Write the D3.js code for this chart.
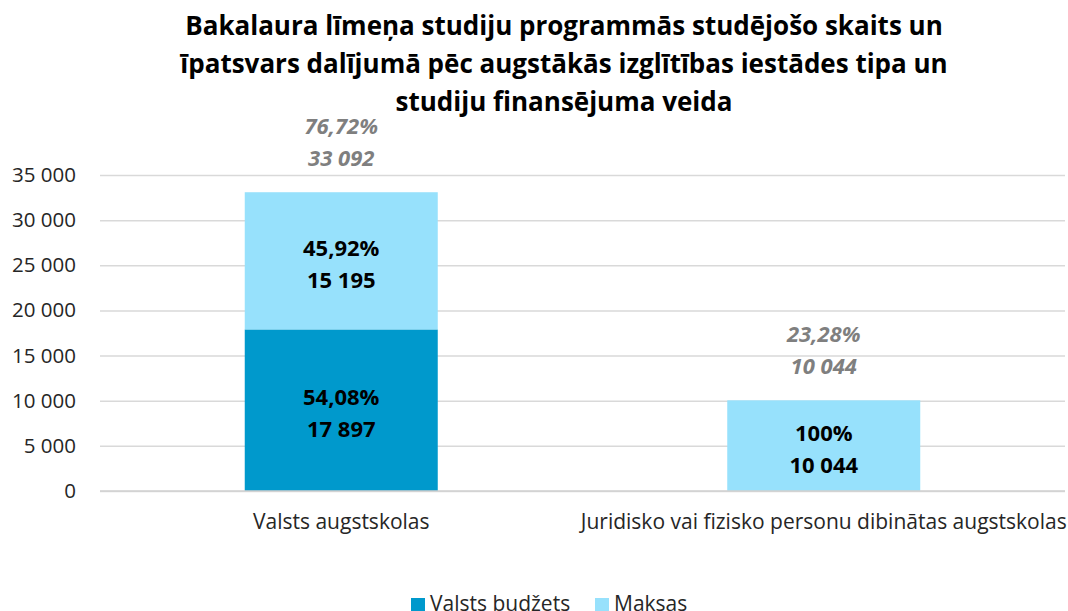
<!DOCTYPE html>
<html>
<head>
<meta charset="utf-8">
<script src="https://cdn.jsdelivr.net/npm/d3@7"></script>
<style>
  html, body { margin: 0; padding: 0; background: #fff; overflow: hidden; }
  svg { display: block; font-family: "Open Sans", sans-serif; }
</style>
</head>
<body>
<div id="chart"></div>
<script>
(function () {
  "use strict";

  const categories = ["Valsts augstskolas", "Juridisko vai fizisko personu dibinātas augstskolas"];
  const seriesNames = ["Valsts budžets", "Maksas"];
  const budzets = [17897, 0];
  const maksas = [15195, 10044];
  const budzetsPct = ["54,08%", ""];
  const maksasPct = ["45,92%", "100%"];
  const totalPct = ["76,72%", "23,28%"];
  const yTicks = [0, 5000, 10000, 15000, 20000, 25000, 30000, 35000];
  const titleLines = [
    "Bakalaura līmeņa studiju programmās studējošo skaits un",
    "īpatsvars dalījumā pēc augstākās izglītības iestādes tipa un",
    "studiju finansējuma veida"
  ];

  const colors = ["#0099CC", "#97E1FC"];
  const width = 1068, height = 611;
  const margin = { top: 175, right: 3, bottom: 120, left: 100 };

  const fmt = function (v) {
    return d3.format(",")(v).replace(/,/g, "\u00a0");
  };

  const svg = d3.select("#chart").append("svg").attr("width", width).attr("height", height);

  const x = d3.scaleBand().domain(categories).range([margin.left, width - margin.right]).padding(0);
  const y = d3.scaleLinear().domain([0, 35000]).range([height - margin.bottom, margin.top]);
  const barW = x.bandwidth() * 0.4;

  // title
  svg.append("g")
    .selectAll("text")
    .data(titleLines)
    .enter()
    .append("text")
    .attr("x", 564)
    .attr("y", function (_, i) { return 35 + i * 38; })
    .attr("text-anchor", "middle")
    .attr("font-size", 26)
    .attr("font-weight", "bold")
    .attr("fill", "#000")
    .text(function (d) { return d; });

  // grid + y axis
  svg.append("g")
    .attr("transform", "translate(" + margin.left + ",0)")
    .call(d3.axisLeft(y).tickValues(yTicks).tickSize(-(width - margin.left - margin.right)).tickPadding(24).tickFormat(fmt))
    .call(function (g) {
      g.select(".domain").remove();
      g.selectAll("line").attr("stroke", "#d9d9d9").attr("stroke-width", 1.5);
      g.selectAll("text").attr("fill", "#262626").attr("font-size", 20.5).attr("font-family", "'Open Sans', sans-serif");
    });

  const rows = categories.map(function (c, i) {
    return { cat: c, values: [budzets[i], maksas[i]], pct: [budzetsPct[i], maksasPct[i]], total: budzets[i] + maksas[i], totalPct: totalPct[i] };
  });

  const bars = svg.append("g");
  rows.forEach(function (r) {
    const cx = x(r.cat) + x.bandwidth() / 2;
    let base = 0;
    r.values.forEach(function (v, s) {
      if (v > 0) {
        bars.append("rect")
          .attr("x", cx - barW / 2)
          .attr("width", barW)
          .attr("y", y(base + v))
          .attr("height", y(base) - y(base + v))
          .attr("fill", colors[s]);
        const mid = (y(base) + y(base + v)) / 2;
        const lbl = bars.append("text")
          .attr("text-anchor", "middle")
          .attr("font-size", 22)
          .attr("font-weight", "bold")
          .attr("fill", "#000");
        lbl.append("tspan").attr("x", cx).attr("y", mid - 5).text(r.pct[s]);
        lbl.append("tspan").attr("x", cx).attr("y", mid + 27).text(fmt(v));
      }
      base += v;
    });
    const top = y(r.total);
    const tl = bars.append("text")
      .attr("text-anchor", "middle")
      .attr("font-size", 22)
      .attr("font-weight", "bold")
      .attr("font-style", "italic")
      .attr("fill", "#7f7f7f");
    tl.append("tspan").attr("x", cx).attr("y", top - 58).text(r.totalPct);
    tl.append("tspan").attr("x", cx).attr("y", top - 26).text(fmt(r.total));
  });

  // baseline
  svg.append("line")
    .attr("x1", margin.left).attr("x2", width - margin.right)
    .attr("y1", y(0)).attr("y2", y(0))
    .attr("stroke", "#d0d0d0").attr("stroke-width", 1.5);

  // category labels
  svg.append("g")
    .attr("transform", "translate(0," + y(0) + ")")
    .call(d3.axisBottom(x).tickSize(0).tickPadding(23))
    .call(function (g) {
      g.select(".domain").remove();
      g.selectAll("text").attr("fill", "#262626").attr("font-size", 21).attr("font-family", "'Open Sans', sans-serif");
    });

  // legend
  const legend = svg.append("g");
  const legendX = [411, 595];
  seriesNames.forEach(function (n, i) {
    legend.append("rect").attr("x", legendX[i]).attr("y", 598).attr("width", 14).attr("height", 14).attr("fill", colors[i]);
    legend.append("text").attr("x", legendX[i] + 19).attr("y", 611).attr("font-size", 21).attr("fill", "#262626").text(n);
  });
})();
</script>
</body>
</html>
